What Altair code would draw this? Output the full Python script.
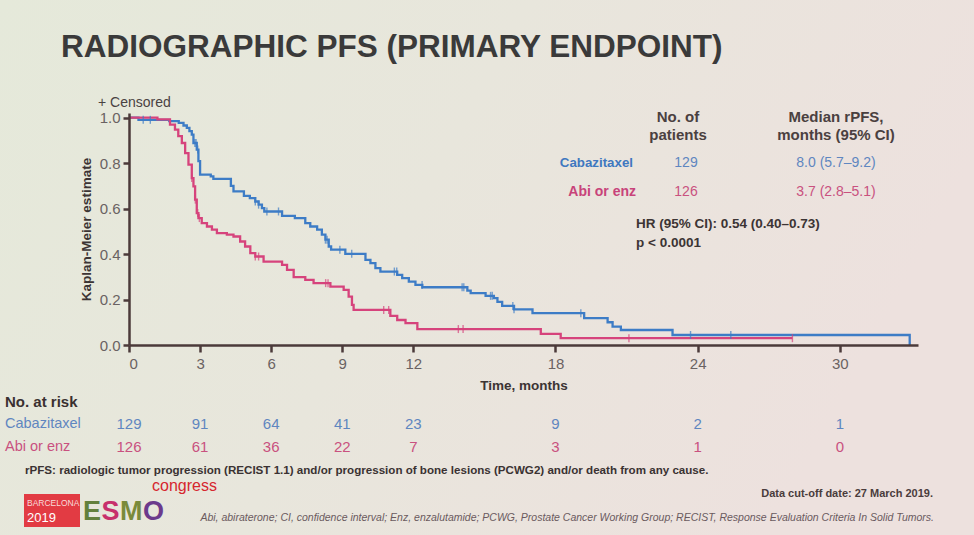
import altair as alt
import pandas as pd
import numpy as np

# ---- Kaplan-Meier step data (time in months, survival after the step) ----
caba_time = [0, 0.4, 1.7, 2.1, 2.3, 2.44, 2.55, 2.65, 2.72, 2.86, 2.93, 3.0, 3.45, 3.56,
             4.3, 4.41, 4.85, 5.1, 5.33, 5.47, 5.61, 5.71, 6.46, 7.0, 7.44, 7.65, 7.94,
             8.14, 8.29, 8.43, 8.53, 9.13, 9.98, 10.19, 10.4, 10.61, 11.32, 11.53, 11.81,
             12.09, 12.38, 14.28, 14.42, 15.05, 15.4, 15.55, 15.75, 16.25, 17.03, 19.21,
             20.2, 20.41, 20.76, 22.94, 32.95]
caba_surv = [1.0, 0.99, 0.984, 0.977, 0.965, 0.955, 0.94, 0.925, 0.888, 0.859, 0.808, 0.749,
             0.741, 0.730, 0.70, 0.675, 0.656, 0.646, 0.631, 0.617, 0.602, 0.587, 0.568,
             0.558, 0.536, 0.521, 0.507, 0.485, 0.463, 0.433, 0.419, 0.401, 0.374, 0.360,
             0.338, 0.323, 0.308, 0.294, 0.279, 0.264, 0.254, 0.239, 0.228, 0.216, 0.206,
             0.190, 0.172, 0.157, 0.140, 0.118, 0.100, 0.081, 0.066, 0.044, 0.0]
caba_censor = [0.6, 0.9, 2.78, 2.83, 2.9, 5.33, 5.47, 5.82, 6.31, 8.29, 8.36, 8.9, 9.4,
               11.2, 11.3, 12.37, 14.06, 14.13, 15.26, 15.33, 16.2, 16.25, 19.07, 23.7, 25.4]

abi_time = [0, 1.2, 1.73, 1.94, 2.08, 2.23, 2.37, 2.51, 2.65, 2.72, 2.79, 2.86, 2.93, 3.07,
            3.29, 3.5, 3.71, 4.13, 4.41, 4.69, 4.9, 5.12, 5.33, 5.68, 6.46, 6.67, 6.95,
            7.44, 7.79, 8.5, 9.06, 9.27, 9.41, 9.48, 11.03, 11.32, 11.67, 12.17, 17.38,
            18.22, 28.0]
abi_surv = [1.0, 0.992, 0.969, 0.947, 0.918, 0.888, 0.844, 0.793, 0.734, 0.697, 0.639, 0.580,
            0.558, 0.536, 0.521, 0.507, 0.492, 0.485, 0.477, 0.455, 0.433, 0.404, 0.389,
            0.367, 0.352, 0.330, 0.298, 0.286, 0.272, 0.257, 0.242, 0.213, 0.176, 0.154,
            0.128, 0.110, 0.096, 0.070, 0.049, 0.030, 0.030]
abi_censor = [2.65, 2.8, 2.9, 2.97, 5.33, 5.47, 8.3, 8.4, 10.75, 10.96, 13.9, 14.1, 21.1, 28.0]

# ---- numbers at risk ----
risk_times = [0, 3, 6, 9, 12, 18, 24, 30]
risk_caba = [129, 91, 64, 41, 23, 9, 2, 1]
risk_abi = [126, 61, 36, 22, 7, 3, 1, 0]

x_ticks = [0, 3, 6, 9, 12, 18, 24, 30]
y_ticks = [0.0, 0.2, 0.4, 0.6, 0.8, 1.0]

BLUE = "#3d7cc6"
PINK = "#d6437c"
BLUE_TXT = "#5f86c0"
PINK_TXT = "#c9517f"
DARK = "#3c3434"
AXIS = "#4b3a3a"
SANS = "Liberation Sans, Arial, sans-serif"

# plot-area origin inside the 974x535 canvas
OX, OY = 129, 113
W, H = 789, 232


def step_value(times, survs, t):
    i = np.searchsorted(times, t, side="right") - 1
    return survs[max(i, 0)]


curves = pd.concat([
    pd.DataFrame({"time": caba_time, "surv": caba_surv, "arm": "Cabazitaxel"}),
    pd.DataFrame({"time": abi_time, "surv": abi_surv, "arm": "Abi or enz"}),
])
censors = pd.concat([
    pd.DataFrame({"time": caba_censor,
                  "surv": [step_value(caba_time, caba_surv, t) for t in caba_censor],
                  "arm": "Cabazitaxel"}),
    pd.DataFrame({"time": abi_censor,
                  "surv": [step_value(abi_time, abi_surv, t) for t in abi_censor],
                  "arm": "Abi or enz"}),
])

xs = alt.Scale(domain=[0, 33.3], nice=False)
ys = alt.Scale(domain=[0, 1.02], nice=False)
col = alt.Scale(domain=["Cabazitaxel", "Abi or enz"], range=[BLUE, PINK])

# slide background with a faint green-to-rose wash
bg = alt.Chart(pd.DataFrame({"a": [0]})).mark_rect(
    color=alt.Gradient(
        gradient="linear",
        stops=[alt.GradientStop(color="#e5e9da", offset=0),
               alt.GradientStop(color="#e8e6dc", offset=0.5),
               alt.GradientStop(color="#ede1de", offset=1)],
        x1=0, x2=1, y1=0, y2=0.3),
).encode(x=alt.value(-OX), x2=alt.value(974 - OX), y=alt.value(-OY), y2=alt.value(535 - OY))

lines = alt.Chart(curves).mark_line(interpolate="step-after", strokeWidth=2.3).encode(
    x=alt.X("time:Q", scale=xs,
            axis=alt.Axis(values=x_ticks, title="Time, months", grid=False, zindex=1,
                          domainColor=AXIS, domainWidth=2.5, tickColor=AXIS, tickWidth=2.5,
                          tickSize=7, labelFontSize=15, labelColor="#6a6262", labelFont=SANS,
                          labelPadding=4, titleFont=SANS, titleFontSize=13.5,
                          titleFontWeight="bold", titleColor=DARK, titlePadding=7)),
    y=alt.Y("surv:Q", scale=ys,
            axis=alt.Axis(values=y_ticks, format=".1f", title="Kaplan-Meier estimate",
                          grid=False, zindex=1, domainColor=AXIS, domainWidth=2.5,
                          tickColor=AXIS, tickWidth=2.5, tickSize=6, labelFontSize=15,
                          labelColor="#6a6262", labelFont=SANS, labelPadding=3,
                          titleFont=SANS, titleFontSize=13.5, titleFontWeight="bold",
                          titleColor=DARK, titlePadding=6)),
    color=alt.Color("arm:N", scale=col, legend=None),
    detail="arm:N",
)

ticks = alt.Chart(censors).mark_tick(orient="vertical", size=8, thickness=1.4).encode(
    x=alt.X("time:Q", scale=xs), y=alt.Y("surv:Q", scale=ys),
    color=alt.Color("arm:N", scale=col, legend=None),
)


def risk_row(counts, color, ypix):
    df = pd.DataFrame({"time": risk_times, "n": counts})
    return alt.Chart(df).mark_text(fontSize=15, font=SANS, color=color).encode(
        x=alt.X("time:Q", scale=xs), y=alt.value(ypix - OY), text="n:Q")


risk_layers = [risk_row(risk_caba, BLUE_TXT, 424), risk_row(risk_abi, PINK_TXT, 447)]


def label(text, x, y, size=14, color=DARK, weight="normal", font=SANS,
          align="left", baseline="middle", style="normal"):
    return alt.Chart(pd.DataFrame({"t": [text]})).mark_text(
        fontSize=size, color=color, fontWeight=weight, font=font,
        align=align, baseline=baseline, fontStyle=style,
    ).encode(x=alt.value(x - OX), y=alt.value(y - OY), text="t:N")


texts = [
    label("RADIOGRAPHIC PFS (PRIMARY ENDPOINT)", 61, 48, size=31.5, weight="bold",
          color="#3a3a3a"),
    label("+ Censored", 98, 103, size=14, color="#4a4242"),
    label("No. of", 678, 117, size=15, weight="bold", align="center", color="#4a4040"),
    label("patients", 678, 135, size=15, weight="bold", align="center", color="#4a4040"),
    label("Median rPFS,", 836, 117, size=15, weight="bold", align="center", color="#4a4040"),
    label("months (95% CI)", 836, 135, size=15, weight="bold", align="center",
          color="#4a4040"),
    label("Cabazitaxel", 633, 163, size=13.3, weight="bold", align="right", color="#3f78c0"),
    label("129", 686, 163, size=14, align="center", color=BLUE_TXT),
    label("8.0 (5.7–9.2)", 836, 163, size=14, align="center", color=BLUE_TXT),
    label("Abi or enz", 636, 192, size=14, weight="bold", align="right", color="#c8437a"),
    label("126", 686, 192, size=14, align="center", color=PINK_TXT),
    label("3.7 (2.8–5.1)", 836, 192, size=14, align="center", color=PINK_TXT),
    label("HR (95% CI): 0.54 (0.40–0.73)", 636, 224, size=13.5, weight="bold"),
    label("p < 0.0001", 636, 243, size=13.5, weight="bold"),
    label("No. at risk", 5, 402, size=15, weight="bold", color="#3a3030"),
    label("Cabazitaxel", 5, 424, size=14.5, color=BLUE_TXT),
    label("Abi or enz", 5, 447, size=14.5, color=PINK_TXT),
    label("rPFS: radiologic tumor progression (RECIST 1.1) and/or progression of bone "
          "lesions (PCWG2) and/or death from any cause.", 25, 471, size=11.6, weight="bold",
          color="#3a3232"),
    label("Data cut-off date: 27 March 2019.", 933, 494, size=11, weight="bold",
          align="right", color="#4a3c3c"),
    label("Abi, abiraterone; CI, confidence interval; Enz, enzalutamide; PCWG, Prostate "
          "Cancer Working Group; RECIST, Response Evaluation Criteria In Solid Tumors.",
          934, 518, size=10.5, style="italic", align="right", color="#6a5a5e"),
]

# congress logo
logo_box = alt.Chart(pd.DataFrame({"a": [0]})).mark_rect(color="#e23b43").encode(
    x=alt.value(24 - OX), x2=alt.value(80 - OX), y=alt.value(494 - OY), y2=alt.value(527 - OY))
logo = [
    logo_box,
    label("BARCELONA", 27, 503, size=8.5, color="#f8dada"),
    label("2019", 27, 518, size=13, color="#ffffff"),
    label("E", 83, 512, size=27, weight="bold", color="#62803c"),
    label("S", 101.5, 512, size=27, weight="bold", color="#c7306c"),
    label("M", 120, 512, size=27, weight="bold", color="#7a8a3a"),
    label("O", 143, 512, size=27, weight="bold", color="#6b3a8c"),
    label("congress", 152, 486, size=16, color="#d6262e"),
]

chart = alt.layer(bg, lines, ticks, *risk_layers, *texts, *logo).properties(
    width=W, height=H,
    padding={"left": OX, "top": OY, "right": 974 - OX - W, "bottom": 535 - OY - H},
    autosize="none",
    background="#e8e7dc",
).configure_view(stroke=None)

chart.save("out.html", embed_options={"renderer": "svg", "actions": False})
